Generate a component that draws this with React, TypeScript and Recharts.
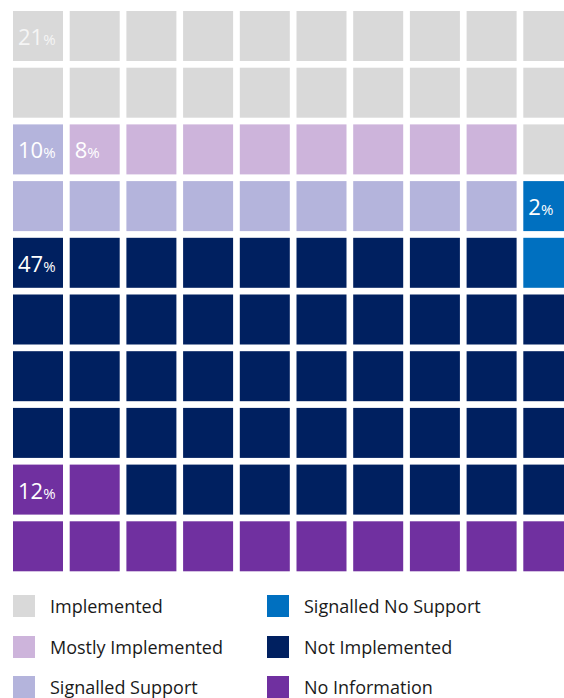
import React from "react";
import { ScatterChart, Scatter, XAxis, YAxis } from "recharts";

const CATEGORIES = [
  "Implemented",
  "Mostly Implemented",
  "Signalled Support",
  "Signalled No Support",
  "Not Implemented",
  "No Information",
];
const VALUES = [21, 8, 10, 2, 47, 12];
const COLORS = ["#d9d9d9", "#cdb4db", "#b4b4dc", "#0070c0", "#002060", "#7030a0"];
const LABEL_COLORS = ["#f5f5f5", "#ffffff", "#ffffff", "#ffffff", "#ffffff", "#ffffff"];

const COLS = 10;
const CELL = 50;
const FONT = "'Open Sans', 'Noto Sans', sans-serif";

// snake fill: even rows right to left, odd rows left to right
function buildCells() {
  const out: { x: number; y: number; cat: number; label?: string }[][] = CATEGORIES.map(() => []);
  let k = 0;
  VALUES.forEach((v, ci) => {
    for (let i = 0; i < v; i++, k++) {
      const row = Math.floor(k / COLS);
      const pos = k % COLS;
      const col = row % 2 === 0 ? COLS - 1 - pos : pos;
      out[ci].push({ x: col, y: row, cat: ci });
    }
  });
  out.forEach((cells, ci) => {
    const top = Math.min(...cells.map((c) => c.y));
    const first = cells.filter((c) => c.y === top).sort((a, b) => a.x - b.x)[0];
    first.label = String(VALUES[ci]);
  });
  return out;
}

const cellsByCat = buildCells();

function WaffleCell(props: any) {
  const { cx, cy, payload, fill } = props;
  return (
    <g>
      <rect x={cx} y={cy} width={CELL} height={CELL} fill={fill} />
      {payload.label && (
        <text x={cx + 5} y={cy + 34} fill={LABEL_COLORS[payload.cat]} fontFamily={FONT} fontSize={22}>
          {payload.label}
          <tspan fontSize={15}>%</tspan>
        </text>
      )}
    </g>
  );
}

export default function App() {
  const legendCols = [CATEGORIES.slice(0, 3), CATEGORIES.slice(3)];
  return (
    <div style={{ position: "absolute", left: 0, top: 0, width: 564, height: 698, overflow: "hidden", background: "#fff" }}>
      <ScatterChart width={580} height={578} margin={{ top: 11, right: 0, bottom: 0, left: 13 }}>
        <XAxis type="number" dataKey="x" domain={[0, 10]} hide />
        <YAxis type="number" dataKey="y" domain={[0, 10]} reversed hide />
        {cellsByCat.map((cells, ci) => (
          <Scatter
            key={CATEGORIES[ci]}
            name={CATEGORIES[ci]}
            data={cells}
            fill={COLORS[ci]}
            shape={WaffleCell}
            isAnimationActive={false}
          />
        ))}
      </ScatterChart>
      {legendCols.map((col, c) => (
        <div key={c} style={{ position: "absolute", left: c === 0 ? 13 : 267, top: 595 }}>
          {col.map((name) => {
            const ci = CATEGORIES.indexOf(name);
            return (
              <div key={name} style={{ display: "flex", alignItems: "center", height: 22, marginBottom: 18.5 }}>
                <div style={{ width: 22, height: 22, background: COLORS[ci] }} />
                <span style={{ marginLeft: 15, fontFamily: FONT, fontSize: 18, color: "#1a1a1a" }}>{name}</span>
              </div>
            );
          })}
        </div>
      ))}
    </div>
  );
}
